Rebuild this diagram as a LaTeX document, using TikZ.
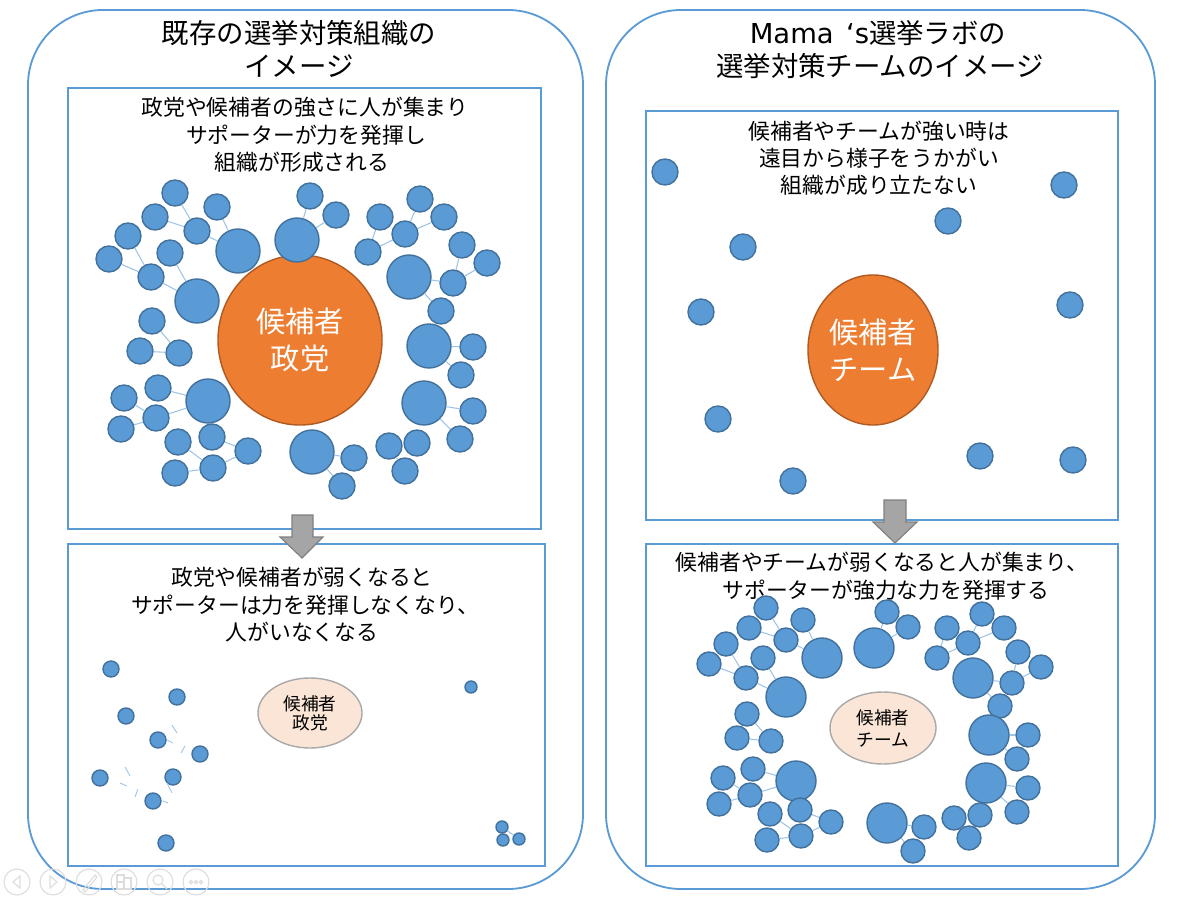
\documentclass[tikz,border=0pt]{standalone}
\usepackage{fontspec}
\setmainfont{Noto Sans CJK JP}
\newfontfamily\latinwide{DejaVu Sans}
\usetikzlibrary{shapes.geometric}
\definecolor{bubfill}{HTML}{5B9BD5}
\definecolor{bubedge}{HTML}{41719C}
\definecolor{connblue}{HTML}{9DC3E6}
\definecolor{boxblue}{HTML}{5B9BD5}
\definecolor{orangefill}{HTML}{ED7D31}
\definecolor{orangeedge}{HTML}{AE5A21}
\definecolor{palefill}{HTML}{FBE5D6}
\definecolor{paleedge}{HTML}{A9A9A9}
\definecolor{arrowgray}{HTML}{A5A5A5}
\definecolor{arrowedge}{HTML}{7F7F7F}
\definecolor{icongray}{HTML}{DDDDDD}
\tikzset{
  outerbox/.style={draw=boxblue, line width=1.3pt, rounded corners=1.875cm},
  innerbox/.style={draw=boxblue, line width=1.2pt},
  bub/.style={circle, draw=bubedge, fill=bubfill, line width=1pt, inner sep=0pt, minimum size=#1*0.05cm},
  conn/.style={draw=connblue, line width=0.75pt},
  frag/.style={draw=connblue, line width=0.6pt},
  blockarrow/.style={fill=arrowgray, draw=arrowedge, line width=0.8pt, line join=miter},
  titletxt/.style={font=\fontsize{19.5}{24}\selectfont, inner sep=0pt},
  bodytxt/.style={font=\fontsize{15.5}{19}\selectfont, inner sep=0pt},
  bigell/.style={ellipse, fill=orangefill, draw=orangeedge, line width=1pt, text=white, align=center, inner sep=0pt, font=\fontsize{20.8}{26.5}\selectfont},
  smallell/.style={ellipse, fill=palefill, draw=paleedge, line width=1pt, align=center, inner sep=0pt},
  icon/.style={draw=icongray, line width=0.8pt}
}
\begin{document}
\begin{tikzpicture}[x=0.025cm, y=-0.025cm]
\useasboundingbox (0,0) rectangle (1200,899);

% outer rounded frames
\draw[outerbox] (28,10) rectangle (583,889);
\draw[outerbox] (606,10) rectangle (1155,889);

% inner boxes
\draw[innerbox] (68,88) rectangle (541,529);
\draw[innerbox] (68,544) rectangle (545,866);
\draw[innerbox] (646,111) rectangle (1118,520);
\draw[innerbox] (646,544) rectangle (1118,866);

% titles
\node[titletxt] (lt1) at (299,33) {既存の選挙対策組織の};
\node[titletxt] (lt2) at (299,66) {イメージ};
\node[titletxt] (rt1) at (878,33) {{\latinwide Mama\hspace{0.45em}‘s}選挙ラボの};
\node[titletxt] (rt2) at (880,66) {選挙対策チームのイメージ};

% body texts
\node[bodytxt] (la1) at (305,107) {政党や候補者の強さに人が集まり};
\node[bodytxt] (la2) at (306,135) {サポーターが力を発揮し};
\node[bodytxt] (la3) at (302,162) {組織が形成される};
\node[bodytxt] (lb1) at (302,577) {政党や候補者が弱くなると};
\node[bodytxt] (lb2) at (305,605) {サポーターは力を発揮しなくなり、};
\node[bodytxt] (lb3) at (302,632) {人がいなくなる};
\node[bodytxt] (ra1) at (879,131) {候補者やチームが強い時は};
\node[bodytxt] (ra2) at (879,158) {遠目から様子をうかがい};
\node[bodytxt] (ra3) at (879,185) {組織が成り立たない};
\node[bodytxt] (rb1) at (882,562) {候補者やチームが弱くなると人が集まり、};
\node[bodytxt] (rb2) at (886,590) {サポーターが強力な力を発揮する};

% central ellipses
\node[bigell, minimum width=4.1cm, minimum height=4.25cm] (cl) at (300,340) {候補者\\政党};
\node[bigell, minimum width=3.25cm, minimum height=3.75cm] (cr) at (873,350) {候補者\\チーム};
\node[smallell, minimum width=2.6cm, minimum height=1.75cm, font=\fontsize{12.6}{13.5}\selectfont] (sl) at (310,713) {候補者\\政党};
\node[smallell, minimum width=2.65cm, minimum height=1.8cm, font=\fontsize{12.6}{15.6}\selectfont] (sr) at (883,728) {候補者\\チーム};

% left top bubbles
\foreach \n/\x/\y/\r in {
a1/175/193/13, a2/217/207/13, a3/155/217/13, a4/128/236/13, a5/197/231/13,
a6/238/251/22, a7/109/259/13, a8/170/253/13, a9/151/277/13, a10/197/301/22,
a11/152/321/13, a12/297/240/22, a13/310/196/13, a14/336/215/13, a15/380/217/13,
a16/420/199/13, a17/444/217/13, a18/405/234/13, a19/368/252/13, a20/462/245/13,
a21/487/263/13, a22/409/277/22, a23/453/283/13, a24/441/311/13, a25/429/346/22,
a26/473/347/13, a27/461/375/13, a28/424/403/22, a29/473/411/13, a30/460/439/13,
a31/417/443/13, a32/389/446/13, a33/405/471/13, a34/312/452/22, a35/354/458/13,
a36/342/486/13, a37/140/351/13, a38/179/353/13, a39/158/388/13, a40/124/398/13,
a41/208/401/22, a42/156/418/13, a43/121/429/13, a44/178/442/13, a45/212/437/13,
a46/248/451/13, a47/213/468/13, a48/175/473/13}
  \node[bub=\r] (\n) at (\x,\y) {};
\foreach \a/\b in {a1/a5, a3/a5, a2/a6, a5/a6, a4/a9, a7/a9, a8/a10, a9/a10,
  a13/a12, a14/a12, a15/a19, a19/a18, a18/a16, a18/a17, a22/a23, a22/a24,
  a23/a20, a23/a21, a25/a26, a25/a27, a28/a29, a28/a30, a32/a31, a32/a33,
  a34/a35, a34/a36, a11/a38, a37/a38, a39/a41, a42/a41, a40/a42, a43/a42,
  a44/a47, a48/a47, a45/a46, a47/a46}
  \draw[conn] (\a) -- (\b);

% left bottom sparse bubbles
\foreach \n/\x/\y/\r in {
s1/111/669/8, s2/177/697/8, s3/126/716/8, s4/158/740/8, s5/200/754/8,
s6/100/778/8, s7/173/777/8, s8/153/801/8, s9/166/843/8, s10/471/687/6,
s11/502/827/6, s12/503/840/6, s13/519/839/6}
  \node[bub=\r] (\n) at (\x,\y) {};
\draw[conn] (s11) -- (s13);
% broken connector fragments
\draw[frag] (172,725) -- (177,733);
\draw[frag] (167,740) -- (173,743);
\draw[frag] (185,746) -- (181,753);
\draw[frag] (125,767) -- (130,776);
\draw[frag] (120,783) -- (127,786);
\draw[frag] (138,789) -- (135,797);
\draw[frag] (167,783) -- (172,793);
\draw[frag] (163,801) -- (168,803);

% right top lone bubbles
\foreach \n/\x/\y in {t1/665/172, t2/1064/185, t3/948/221, t4/743/247, t5/701/312,
  t6/1070/305, t7/718/419, t8/980/456, t9/1073/460, t10/793/481}
  \node[bub=13] (\n) at (\x,\y) {};

% right bottom bubbles
\foreach \n/\x/\y/\r in {
c1/766/608/12, c2/803/620/12, c3/749/628/12, c4/726/644/12, c5/786/640/12,
c6/822/658/20, c7/709/664/12, c8/763/658/12, c9/746/678/12, c10/786/697/20,
c11/747/714/12, c12/737/738/12, c13/771/741/12, c14/753/769/12, c15/723/778/12,
c16/796/781/20, c17/750/795/12, c18/719/804/12, c19/770/814/12, c20/800/810/12,
c21/831/822/12, c22/801/836/12, c23/767/840/12, c24/887/612/12, c25/908/627/12,
c26/874/648/20, c27/947/628/12, c28/982/614/12, c29/1004/628/12, c30/968/643/12,
c31/937/658/12, c32/1018/652/12, c33/1041/667/12, c34/973/678/20, c35/1012/683/12,
c36/1000/706/12, c37/989/735/20, c38/1028/735/12, c39/1017/759/12, c40/986/783/20,
c41/1028/788/12, c42/1017/812/12, c43/980/815/12, c44/954/818/12, c45/969/838/12,
c46/887/823/20, c47/924/827/12, c48/913/851/12}
  \node[bub=\r] (\n) at (\x,\y) {};
\foreach \a/\b in {c1/c5, c3/c5, c2/c6, c5/c6, c4/c9, c7/c9, c8/c10, c9/c10,
  c11/c13, c12/c13, c14/c16, c17/c16, c15/c17, c18/c17, c19/c22, c23/c22,
  c20/c21, c22/c21, c24/c26, c25/c26, c27/c31, c31/c30, c30/c28, c30/c29,
  c34/c35, c34/c36, c35/c32, c35/c33, c37/c38, c37/c39, c40/c41, c40/c42,
  c44/c43, c44/c45, c46/c47, c46/c48}
  \draw[conn] (\a) -- (\b);

% block arrows
\draw[blockarrow] (292,515) -- (313,515) -- (313,537) -- (323,537) -- (302,558)
  -- (280,537) -- (292,537) -- cycle;
\draw[blockarrow] (884,500) -- (906,500) -- (906,522) -- (917,522) -- (895,543)
  -- (873,522) -- (884,522) -- cycle;

% faint slideshow toolbar
\foreach \x in {17,53,89,124,160,196}
  \draw[icon] (\x,882) circle (13);
\draw[icon] (20,876) -- (13,882) -- (20,888) -- cycle;
\draw[icon] (50,876) -- (57,882) -- (50,888) -- cycle;
\draw[icon] (83,890) -- (95,875) -- (97,877) -- (85,892) -- cycle;
\draw[icon] (117,875) rectangle (124,882);
\draw[icon] (124,878) rectangle (131,889);
\draw[icon] (117,882) rectangle (124,889);
\draw[icon] (158,880) circle (5);
\draw[icon] (162,884) -- (167,889);
\foreach \dx in {-5,0,5}
  \draw[icon] (196+\dx,882) circle (1.7);
\end{tikzpicture}
\end{document}
